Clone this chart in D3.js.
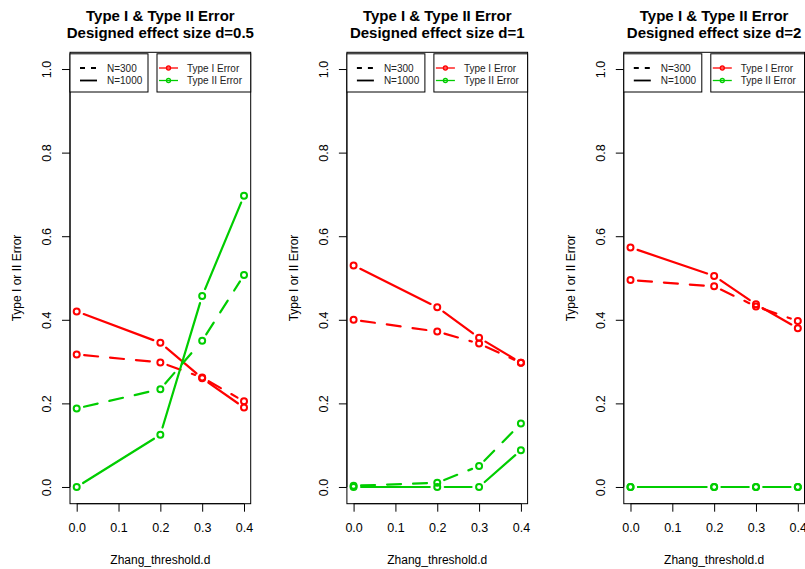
<!DOCTYPE html>
<html>
<head>
<meta charset="utf-8">
<script src="https://cdn.jsdelivr.net/npm/d3@7"></script>
<style>
  body { margin: 0; background: #fff; }
  text { font-family: "Liberation Sans", Arial, sans-serif; }
</style>
</head>
<body>
<div id="chart"></div>
<script>
// DATA
const thresholds = [0, 0.2, 0.3, 0.4];
const effectSizes = ["0.5", "1", "2"];
const xTicks = [0, 0.1, 0.2, 0.3, 0.4];
const yTicks = [0, 0.2, 0.4, 0.6, 0.8, 1.0];

// one row per panel (d=0.5, d=1, d=2)
const typeI_N300 = [
    [0.317, 0.298, 0.262, 0.205],
    [0.400, 0.372, 0.343, 0.297],
    [0.495, 0.480, 0.432, 0.397]
];
const typeI_N1000 = [
    [0.420, 0.345, 0.260, 0.190],
    [0.530, 0.430, 0.357, 0.297],
    [0.573, 0.505, 0.437, 0.380]
];
const typeII_N300 = [
    [0.188, 0.234, 0.350, 0.507],
    [0.003, 0.010, 0.050, 0.152],
    [0.000, 0.000, 0.000, 0.000]
];
const typeII_N1000 = [
    [0.000, 0.125, 0.457, 0.697],
    [0.000, 0.000, 0.000, 0.088],
    [0.000, 0.000, 0.000, 0.000]
];

// GLOBAL VARIABLES FOR LAYOUT
const width = 805;
const height = 569;
const red = "#FF0000";
const green = "#00CD00";
const panelStep = 276.9;
const boxLeft = 70;
const boxWidth = 180.7;
const boxTop = 52.3;
const boxBottom = 503.7;

const svg = d3.select("#chart")
    .append("svg")
    .attr("width", width)
    .attr("height", height);

// series drawn in every panel
const seriesList = [
    {values: typeI_N300, color: red, dash: "14,12"},
    {values: typeI_N1000, color: red, dash: null},
    {values: typeII_N300, color: green, dash: "14,12"},
    {values: typeII_N1000, color: green, dash: null}
];

effectSizes.forEach(function(d, i) {
    const left = boxLeft + i * panelStep;
    const right = left + boxWidth;
    const g = svg.append("g");

    // scales with R's 4% padding
    const x = d3.scaleLinear()
        .domain([0 - 0.016, 0.4 + 0.016])
        .range([left, right]);
    const y = d3.scaleLinear()
        .domain([0 - 0.04, 1 + 0.04])
        .range([boxBottom, boxTop]);

    // plot box
    g.append("rect")
        .attr("x", left)
        .attr("y", boxTop)
        .attr("width", boxWidth)
        .attr("height", boxBottom - boxTop)
        .attr("fill", "none")
        .attr("stroke", "#000")
        .attr("stroke-width", 1);

    // axes
    const xAxis = g.append("g")
        .attr("transform", `translate(0,${boxBottom})`)
        .call(d3.axisBottom(x).tickValues(xTicks).tickFormat(d3.format(".1f")).tickSize(8).tickPadding(11));
    xAxis.select(".domain").attr("d", `M${x(0)},0H${x(0.4)}`);

    const yAxis = g.append("g")
        .attr("transform", `translate(${left},0)`)
        .call(d3.axisLeft(y).tickValues(yTicks).tickFormat(d3.format(".1f")).tickSize(8).tickPadding(0));
    yAxis.select(".domain").attr("d", `M0,${y(0)}V${y(1)}`);
    yAxis.selectAll(".tick text")
        .attr("x", null)
        .attr("dy", null)
        .attr("text-anchor", "middle")
        .attr("transform", "translate(-19,0) rotate(-90)");

    g.selectAll(".tick text")
        .attr("font-size", 12.5)
        .attr("font-family", "Liberation Sans, Arial, sans-serif")
        .attr("fill", "#000");
    g.selectAll(".tick line, .domain").attr("stroke", "#000");

    // axis titles
    g.append("text")
        .attr("x", (left + right) / 2)
        .attr("y", 564)
        .attr("text-anchor", "middle")
        .attr("font-size", 12)
        .text("Zhang_threshold.d");

    g.append("text")
        .attr("transform", `translate(${left - 49},${(boxTop + boxBottom) / 2}) rotate(-90)`)
        .attr("text-anchor", "middle")
        .attr("font-size", 12)
        .text("Type I or II Error");

    // title
    const title = g.append("text")
        .attr("text-anchor", "middle")
        .attr("font-size", 15)
        .attr("font-weight", "bold");
    title.append("tspan")
        .attr("x", (left + right) / 2)
        .attr("y", 21)
        .text("Type I & Type II Error");
    title.append("tspan")
        .attr("x", (left + right) / 2)
        .attr("y", 38)
        .text(`Designed effect size d=${d}`);

    // lines (separate segments with gaps, like R type="b")
    const gap = 7.5;
    seriesList.forEach(function(s) {
        const pts = s.values[i].map((v, k) => [x(thresholds[k]), y(v)]);
        for (let k = 0; k < pts.length - 1; k++) {
            const [x1, y1] = pts[k];
            const [x2, y2] = pts[k + 1];
            const len = Math.hypot(x2 - x1, y2 - y1);
            if (len <= 2 * gap) continue;
            const ux = (x2 - x1) / len;
            const uy = (y2 - y1) / len;
            g.append("line")
                .attr("x1", x1 + ux * gap)
                .attr("y1", y1 + uy * gap)
                .attr("x2", x2 - ux * gap)
                .attr("y2", y2 - uy * gap)
                .attr("stroke", s.color)
                .attr("stroke-width", 2.2)
                .attr("stroke-linecap", "round")
                .attr("stroke-dasharray", s.dash);
        }
        g.selectAll(null)
            .data(pts)
            .enter()
            .append("circle")
            .attr("cx", p => p[0])
            .attr("cy", p => p[1])
            .attr("r", 3)
            .attr("fill", "none")
            .attr("stroke", s.color)
            .attr("stroke-width", 2);
    });

    // legend: sample sizes
    const legTop = boxTop + 1.5;
    const legBottom = 92;
    const leg1Right = left + 78;
    g.append("rect")
        .attr("x", left)
        .attr("y", legTop)
        .attr("width", leg1Right - left)
        .attr("height", legBottom - legTop)
        .attr("fill", "#fff")
        .attr("stroke", "#000");
    const sizeItems = [{label: "N=300", dash: "5,6", row: 68}, {label: "N=1000", dash: null, row: 80.5}];
    sizeItems.forEach(function(it) {
        g.append("line")
            .attr("x1", left + 10)
            .attr("x2", left + 27)
            .attr("y1", it.row)
            .attr("y2", it.row)
            .attr("stroke", "#000")
            .attr("stroke-width", 1.8)
            .attr("stroke-dasharray", it.dash);
        g.append("text")
            .attr("x", left + 37)
            .attr("y", it.row + 3.6)
            .attr("font-size", 10)
            .attr("fill", "#222")
            .text(it.label);
    });

    // legend: error types
    const leg2Left = left + 87;
    g.append("rect")
        .attr("x", leg2Left)
        .attr("y", legTop)
        .attr("width", right - leg2Left)
        .attr("height", legBottom - legTop)
        .attr("fill", "#fff")
        .attr("stroke", "#000");
    const typeItems = [{label: "Type I Error", color: red, row: 68}, {label: "Type II Error", color: green, row: 80.5}];
    typeItems.forEach(function(it) {
        g.append("line")
            .attr("x1", leg2Left + 2)
            .attr("x2", leg2Left + 21)
            .attr("y1", it.row)
            .attr("y2", it.row)
            .attr("stroke", it.color)
            .attr("stroke-width", 1.3);
        g.append("circle")
            .attr("cx", leg2Left + 11.5)
            .attr("cy", it.row)
            .attr("r", 2)
            .attr("fill", "none")
            .attr("stroke", it.color)
            .attr("stroke-width", 1.3);
        g.append("text")
            .attr("x", leg2Left + 30)
            .attr("y", it.row + 3.6)
            .attr("font-size", 10)
            .attr("fill", "#222")
            .text(it.label);
    });
});
</script>
</body>
</html>
